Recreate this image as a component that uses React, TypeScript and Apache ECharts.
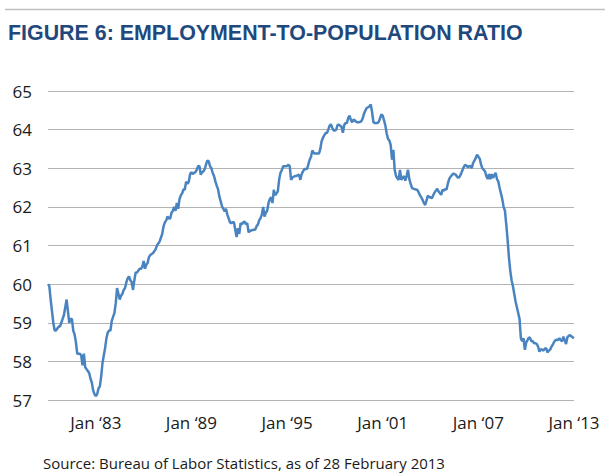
import React, { useEffect, useRef } from "react";
import * as echarts from "echarts";

// Employment-to-population ratio, monthly, Jan 1980 – Jan 2013
const ratio1980s = [
  60.0, 59.95, 59.6, 59.3, 59.0, 58.8, 58.8, 58.85, 58.9, 58.9, 59.0, 59.1,
  59.2, 59.4, 59.6, 59.3, 59.0, 59.1, 59.1, 58.8, 58.7, 58.5, 58.2, 58.2,
  58.2, 58.15, 57.9, 58.2, 57.85, 57.8, 57.75, 57.7, 57.55, 57.45, 57.25, 57.15,
  57.1, 57.15, 57.3, 57.35, 57.6, 57.95, 58.15, 58.35, 58.6, 58.75, 58.8, 58.8,
  59.05, 59.15, 59.25, 59.5, 59.9, 59.75, 59.6, 59.7, 59.75, 59.85, 59.9, 60.05,
  60.15, 60.2, 60.1, 60.05, 59.85, 60.1, 60.3, 60.3, 60.35, 60.4, 60.4, 60.45,
  60.6, 60.4, 60.5, 60.55, 60.7, 60.75, 60.78, 60.8, 60.85, 60.9, 61.0, 61.05,
  61.1, 61.2, 61.3, 61.5, 61.6, 61.65, 61.75, 61.7, 61.7, 61.85, 61.9, 62.0,
  61.9, 62.1, 61.95, 62.2, 62.3, 62.35, 62.45, 62.45, 62.65, 62.6, 62.65, 62.85,
  62.9, 62.85, 62.88, 62.9, 62.96, 63.05, 63.06, 62.83, 62.9, 62.92, 62.98, 63.1,
];
const ratio1990s = [
  63.2, 63.18, 63.05, 63.0, 62.88, 62.8, 62.66, 62.55, 62.46, 62.27, 62.15, 62.01,
  61.95, 61.88, 61.95, 61.8, 61.7, 61.6, 61.58, 61.6, 61.6, 61.4, 61.22, 61.45,
  61.3, 61.58, 61.55, 61.6, 61.62, 61.55, 61.58, 61.34, 61.38, 61.39, 61.4, 61.41,
  61.41, 61.5, 61.54, 61.65, 61.71, 61.8, 62.0, 61.75, 61.85, 61.9, 62.1, 62.2,
  62.25, 62.1, 62.44, 62.3, 62.35, 62.4, 62.7, 62.88, 62.95, 63.05, 63.05, 63.05,
  63.06, 63.09, 63.05, 62.7, 62.76, 62.78, 62.8, 62.8, 62.82, 62.83, 62.7, 62.85,
  62.92, 62.98, 62.98, 62.98, 63.1, 63.22, 63.3, 63.46, 63.4, 63.38, 63.38, 63.38,
  63.38, 63.5, 63.7, 63.79, 63.85, 63.91, 63.91, 64.0, 64.1, 64.14, 64.05, 63.98,
  63.98, 64.0, 64.12, 64.13, 64.1, 64.07, 63.92, 64.12, 64.17, 64.17, 64.3, 64.36,
  64.25, 64.19, 64.26, 64.24, 64.2, 64.19, 64.19, 64.2, 64.22, 64.3, 64.42, 64.5,
];
const ratio2000s = [
  64.56, 64.58, 64.6, 64.65, 64.45, 64.19, 64.17, 64.17, 64.17, 64.2, 64.3, 64.39,
  64.36, 64.24, 64.1, 63.9, 63.76, 63.72, 63.6, 63.22, 63.48, 62.96, 62.8, 62.74,
  62.7, 62.96, 62.7, 62.75, 62.8, 62.68, 62.8, 62.96, 62.72, 62.6, 62.49, 62.47,
  62.46, 62.45, 62.44, 62.38, 62.3, 62.25, 62.18, 62.1, 62.05, 62.17, 62.29, 62.25,
  62.25, 62.22, 62.3, 62.37, 62.42, 62.47, 62.4, 62.36, 62.31, 62.44, 62.42, 62.46,
  62.45, 62.6, 62.72, 62.78, 62.82, 62.86, 62.85, 62.83, 62.78, 62.75, 62.79, 62.86,
  62.95, 63.03, 63.09, 63.07, 63.03, 63.05, 63.06, 63.0, 63.13, 63.2, 63.26, 63.35,
  63.3, 63.25, 63.1, 63.0, 62.96, 62.92, 62.8, 62.72, 62.85, 62.72, 62.85, 62.75,
  62.82, 62.88, 62.72, 62.66, 62.49, 62.35, 62.2, 62.0, 61.9, 61.55, 61.15, 60.7,
  60.35, 60.1, 59.95, 59.75, 59.55, 59.4, 59.25, 59.1, 58.6, 58.52, 58.6, 58.3,
];
const ratio2010s = [
  58.49, 58.55, 58.62, 58.6, 58.52, 58.52, 58.47, 58.47, 58.45, 58.38, 58.25, 58.32,
  58.3, 58.28, 58.33, 58.34, 58.23, 58.28, 58.3, 58.38, 58.43, 58.5, 58.55, 58.56,
  58.55, 58.6, 58.55, 58.52, 58.64, 58.55, 58.45, 58.62, 58.66, 58.68, 58.65, 58.62,
  58.6,
];

const monthNames = ["Jan", "Feb", "Mar", "Apr", "May", "Jun", "Jul", "Aug", "Sep", "Oct", "Nov", "Dec"];
const firstYear = 1980;
const lastYear = 2013;

// Tick labels shown on the x axis
const xTickLabels = ["Jan \u201883", "Jan \u201889", "Jan \u201895", "Jan \u201801", "Jan \u201807", "Jan \u201813"];
const yTicks = [57, 58, 59, 60, 61, 62, 63, 64, 65];

const titleText = "FIGURE 6: EMPLOYMENT-TO-POPULATION RATIO";
const sourceText = "Source: Bureau of Labor Statistics, as of 28 February 2013";

const categories: string[] = [];
for (let y = firstYear; y <= lastYear; y++) {
  for (let m = 0; m < 12; m++) {
    if (y === lastYear && m > 0) break;
    categories.push(`${monthNames[m]} \u2018${String(y).slice(2)}`);
  }
}
const values = [...ratio1980s, ...ratio1990s, ...ratio2000s, ...ratio2010s];

export default function App() {
  const ref = useRef<HTMLDivElement>(null);
  useEffect(() => {
    if (!ref.current) return;
    const chart = echarts.init(ref.current, undefined, { renderer: "svg" });
    const axisFont = "'Open Sans', 'Noto Sans', sans-serif";
    chart.setOption({
      animation: false,
      backgroundColor: "#ffffff",
      grid: { left: 48, right: 37, top: 91, bottom: 75, containLabel: false },
      xAxis: {
        type: "category",
        data: categories,
        boundaryGap: false,
        axisLine: { show: false },
        axisTick: { show: false },
        splitLine: { show: false },
        axisLabel: {
          interval: (_i: number, v: string) => xTickLabels.includes(v),
          margin: 14,
          fontSize: 17,
          fontFamily: axisFont,
          color: "#1a1a1a",
          showMaxLabel: true,
        },
      },
      yAxis: {
        type: "value",
        min: yTicks[0],
        max: yTicks[yTicks.length - 1],
        interval: 1,
        axisLine: { show: false },
        axisTick: { show: false },
        splitLine: { lineStyle: { color: "#b3b3b3", width: 1 } },
        axisLabel: {
          margin: 16,
          fontSize: 17,
          fontFamily: axisFont,
          color: "#1a1a1a",
          padding: [5, 0, 0, 0],
        },
      },
      series: [
        {
          type: "line",
          data: values,
          symbol: "none",
          lineStyle: { color: "#4a84c0", width: 2.5 },
          itemStyle: { color: "#4a84c0" },
        },
      ],
      graphic: [
        {
          type: "line",
          shape: { x1: 5, y1: 9.5, x2: 605, y2: 9.5 },
          style: { stroke: "#c0c0c0", lineWidth: 1.5 },
        },
        {
          type: "text",
          x: 8,
          y: 33,
          style: {
            text: titleText,
            fontSize: 21.4,
            fontWeight: "bold",
            fontFamily: "'Liberation Sans', Arial, sans-serif",
            fill: "#1f497d",
            textVerticalAlign: "middle",
          },
        },
        {
          type: "text",
          x: 43,
          y: 463,
          style: {
            text: sourceText,
            fontSize: 15,
            fontFamily: axisFont,
            fill: "#1a1a1a",
            textVerticalAlign: "middle",
          },
        },
      ],
    });
    return () => chart.dispose();
  }, []);
  return (
    <div
      ref={ref}
      style={{ position: "fixed", left: 0, top: 0, width: 611, height: 475 }}
    />
  );
}
